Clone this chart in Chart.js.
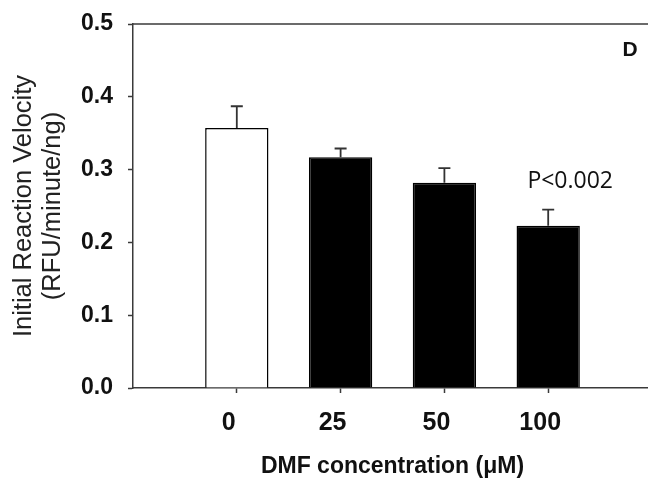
<!DOCTYPE html>
<html>
<head>
<meta charset="utf-8">
<script src="https://cdn.jsdelivr.net/npm/chart.js@4.4.1/dist/chart.umd.min.js"></script>
<style>
  html, body { margin: 0; padding: 0; background: #fff; overflow: hidden; }
  #wrap { width: 648px; height: 479px; overflow: hidden; }
  #box { width: 652px; height: 479px; }
</style>
</head>
<body>
<div id="wrap"><div id="box"><canvas id="myChart"></canvas></div></div>
<script>
// data
const categories = ['0', '25', '50', '100'];
const velocity = [0.357, 0.317, 0.282, 0.223];
const sem = [0.030, 0.012, 0.020, 0.022];
const barColors = ['#ffffff', '#000000', '#000000', '#000000'];
const yTicks = [0.0, 0.1, 0.2, 0.3, 0.4, 0.5];

const axisColor = '#3a3a3a';
const fontFamily = "'Liberation Sans', Arial, sans-serif";

// empty slot on each side so the frame runs past the first and last bar
const labels = [''].concat(categories, ['']);
const values = [null].concat(velocity, [null]);
const errors = [null].concat(sem, [null]);
const colors = ['#000'].concat(barColors, ['#000']);

// up-only error bars + frame top + text notes
const extras = {
    id: 'extras',
    afterDatasetsDraw(chart) {
        const ctx = chart.ctx;
        const x = chart.scales.x;
        const y = chart.scales.y;
        const area = chart.chartArea;
        ctx.save();

        ctx.strokeStyle = axisColor;
        ctx.lineWidth = 1.5;
        ctx.beginPath();
        ctx.moveTo(area.left, area.top);
        ctx.lineTo(area.right, area.top);
        ctx.stroke();

        ctx.strokeStyle = '#333';
        ctx.lineWidth = 1.8;
        values.forEach((v, i) => {
            if (v === null) return;
            const px = x.getPixelForValue(i);
            const top = y.getPixelForValue(v + errors[i]);
            const base = y.getPixelForValue(v);
            ctx.beginPath();
            ctx.moveTo(px, base);
            ctx.lineTo(px, top);
            ctx.moveTo(px - 6, top);
            ctx.lineTo(px + 6, top);
            ctx.stroke();
        });

        ctx.fillStyle = '#111';
        ctx.textAlign = 'center';
        ctx.textBaseline = 'middle';
        ctx.font = "23px 'Open Sans', sans-serif";
        ctx.fillText('P<0.002', x.getPixelForValue(4) + 22, y.getPixelForValue(0.284));

        ctx.font = "bold 21px " + fontFamily;
        ctx.fillText('D', 630, area.top + 26);
        ctx.restore();
    }
};

const ctx = document.getElementById('myChart').getContext('2d');

const myChart = new Chart(ctx, {
    type: 'bar',
    data: {
        labels: labels,
        datasets: [{
            data: values,
            backgroundColor: colors,
            borderColor: '#000',
            borderWidth: 1.5,
            barPercentage: 0.61,
            categoryPercentage: 1
        }]
    },
    options: {
        responsive: true,
        maintainAspectRatio: false,
        animation: false,
        events: [],
        layout: { padding: { top: 24, right: 0, left: 0, bottom: 0 } },
        plugins: {
            legend: { display: false },
            tooltip: { enabled: false }
        },
        scales: {
            x: {
                offset: false,
                afterFit: (scale) => {
                    scale.height = 91;
                    scale.paddingLeft = 0;
                    scale.paddingRight = 0;
                },
                grid: {
                    offset: false,
                    drawOnChartArea: false,
                    color: 'rgba(0,0,0,0)',
                    tickLength: 5,
                    tickWidth: 1.5,
                    tickColor: (c) => (c.index === 0 || c.index === labels.length - 1) ? 'rgba(0,0,0,0)' : axisColor
                },
                border: { display: true, color: axisColor, width: 1.5 },
                ticks: {
                    color: '#111',
                    padding: 15,
                    labelOffset: -8,
                    maxRotation: 0,
                    autoSkip: false,
                    font: { family: fontFamily, size: 25, weight: 'bold' }
                },
                title: {
                    display: true,
                    text: 'DMF concentration (\u03bcM)',
                    color: '#111',
                    padding: 0,
                    font: { family: fontFamily, size: 23, weight: 'bold', lineHeight: 1.05 }
                }
            },
            y: {
                min: 0,
                max: 0.5,
                afterFit: (scale) => {
                    scale.width = 133;
                    scale.paddingTop = 0;
                    scale.paddingBottom = 0;
                },
                afterBuildTicks: (scale) => { scale.ticks = yTicks.map(v => ({ value: v })); },
                grid: {
                    drawOnChartArea: false,
                    color: 'rgba(0,0,0,0)',
                    tickLength: 5,
                    tickWidth: 1.5,
                    tickColor: axisColor
                },
                border: { display: true, color: axisColor, width: 1.5 },
                ticks: {
                    color: '#111',
                    padding: 15,
                    font: { family: fontFamily, size: 23, weight: 'bold' },
                    callback: (v) => Number(v).toFixed(1)
                },
                title: {
                    display: true,
                    text: ['Initial Reaction Velocity', '(RFU/minute/ng)'],
                    color: '#222',
                    padding: { top: 9, bottom: 0 },
                    font: { family: fontFamily, size: 25.5, lineHeight: 1.15 }
                }
            }
        }
    },
    plugins: [extras]
});
</script>
</body>
</html>
